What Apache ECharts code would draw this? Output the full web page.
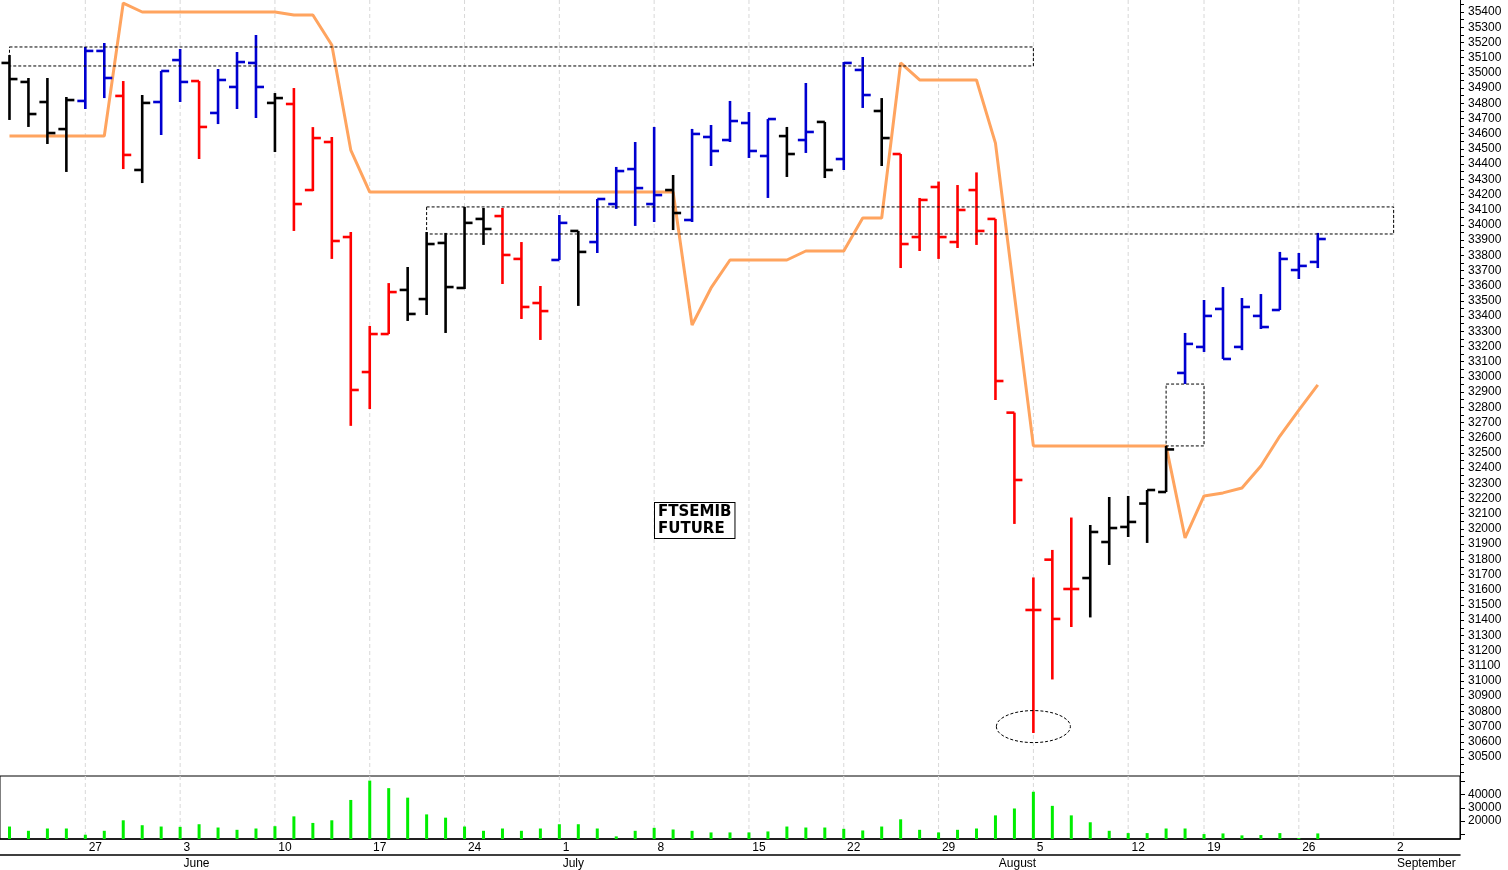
<!DOCTYPE html>
<html>
<head>
<meta charset="utf-8" />
<script src="https://cdn.jsdelivr.net/npm/echarts@6/dist/echarts.min.js"></script>
<style>
  html, body { margin: 0; padding: 0; background: #fff; }
  #chart { width: 1508px; height: 870px; }
</style>
</head>
<body>
<div id="chart"></div>
<script>
// daily bars, May 21 .. Aug 27 (Aug 15 closed)
var opens = [35065,34940,34808,34630,34815,35144,34848,34361,34808,35084, 34946,34736,34907,35065,34802,34795,34229,34545,33920,33032,
  33282,33572,33512,33881,33585,34039,34058,33776,33486,33769, 33960,33887,34137,34367,34137,34229,34032,34578,34558,34670,
  34453,34584,34558,34677,34433,35019,34749,34466,33920,34249, 33887,34229,34039,32765,31467,31798,31605,31677,31914,32013,
  32167,32243,33026,33197,33447,33197,33401,33440,33703,33756];
var highs = [35117,34966,34966,34841,35170,35196,34946,34854,35012,35157, 34946,35025,35137,35249,34867,34900,34643,34578,33953,33335,
  33617,33723,33953,33947,34118,34111,34111,33887,33598,34065, 33960,34170,34381,34545,34644,34328,34631,34657,34815,34742,
  34696,34644,34933,34677,35071,35104,34834,34466,34177,34285, 34262,34345,34039,32765,31681,31862,32075,32026,32210,32217,
  32256,32546,33289,33506,33591,33519,33545,33822,33815,33947];
var lows = [34690,34644,34532,34348,34762,34834,34367,34275,34591,34808, 34433,34663,34762,34703,34479,33960,34222,33776,32678,32789,
  33282,33368,33407,33289,33578,33868,33611,33381,33243,33769, 33467,33815,34105,33993,34019,33966,34019,34387,34545,34440,
  34177,34315,34473,34308,34361,34769,34387,33716,33828,33776, 33848,33868,32848,32033,30658,31010,31355,31418,31763,31947,
  31908,32243,32953,33164,33118,33176,33315,33440,33644,33716];
var closes = [34959,34729,34604,34821,35144,34966,34460,34802,35012,34940, 34644,34953,35071,34907,34834,34137,34571,33894,32914,33282,
  33558,33414,33874,33591,34013,33973,33802,33460,33433,34013, 33822,34170,34354,34242,34196,34078,34598,34486,34683,34486,
  34696,34466,34611,34361,35065,34854,34571,33874,34164,33920, 34098,33960,32973,32322,31467,31408,31605,31980,32006,32046,
  32256,32523,33217,33401,33118,33460,33328,33776,33730,33907];
var barColors = 'kkkkbbrkbb' + 'rbbbkrrrrr' + 'rkkkkkrrrb' + 'kbbbbkbbbb' + 'bkbkbbkrrr' + 'rrrrrrrkkk' + 'kkbbbbbbbb';
var trend = [34585,34585,34585,34585,34585,34585,35459,35400,35400,35400, 35400,35400,35400,35400,35400,35380,35380,35183,34492,34216,
  34216,34216,34216,34216,34216,34216,34216,34216,34216,34216, 34216,34216,34216,34216,34216,34216,33341,33585,33769,33769,
  33769,33769,33828,33828,33828,34045,34045,35065,34953,34953, 34953,34953,34538,33539,32546,32546,32546,32546,32546,32546,
  32546,32546,31941,32217,32237,32269,32414,32611,32782,32947];
var volumes = [15750,12500,14250,14250,9500,12500,20500,16750,15750,15500, 17500,15000,13250,14250,16000,23500,18500,20500,36000,50750,
  45000,37750,25000,22500,15750,12500,14250,12500,14250,17500, 17500,14250,8250,12500,14750,13500,12500,11250,11250,11250,
  12000,15750,15000,15000,14000,12750,15750,21250,13250,11250, 13250,14250,24250,29500,42250,31500,24250,19000,12500,10750,
  10750,14250,14250,10000,10500,9000,9250,10750,7000,10500];
var priceLabels = [];
for (var v = 30500; v <= 35400; v += 100) priceLabels.push(v);
var priceTicks = [];
for (var v = 30400; v <= 35450; v += 50) priceTicks.push(v);
var volLabels = [20000, 30000, 40000];
var volTicks = [10000, 20000, 30000, 40000, 50000];

var monthNames = ['January','February','March','April','May','June','July','August','September','October','November','December'];
// trading calendar to the right edge of the chart
var dates = [];
var d = new Date(2024, 4, 21);
while (dates.length < 77) {
  var wd = d.getDay();
  if (wd !== 0 && wd !== 6 && !(d.getMonth() === 7 && d.getDate() === 15)) {
    dates.push(new Date(d.getTime()));
  }
  d.setDate(d.getDate() + 1);
}
var categories = dates.map(function (x) { return (x.getMonth() + 1) + '-' + x.getDate(); });
function isMonday(i) { return dates[i].getDay() === 1; }
function isMonthStart(i) { return i > 0 && dates[i].getMonth() !== dates[i - 1].getMonth(); }

var ohlc = opens.map(function (o, i) {
  return [i, o, highs[i], lows[i], closes[i], 'kbr'.indexOf(barColors[i])];
});
var palette = ['#000000', '#0000d0', '#ff0000'];
var mondays = [];
categories.forEach(function (c, i) { if (isMonday(i)) mondays.push([i, 0]); });

function renderBar(params, api) {
  var x = api.coord([api.value(0), api.value(2)])[0];
  var yO = api.coord([api.value(0), api.value(1)])[1];
  var yH = api.coord([api.value(0), api.value(2)])[1];
  var yL = api.coord([api.value(0), api.value(3)])[1];
  var yC = api.coord([api.value(0), api.value(4)])[1];
  var style = { stroke: palette[api.value(5)], lineWidth: 2.6 };
  return {
    type: 'group',
    children: [
      { type: 'line', shape: { x1: x, y1: yH, x2: x, y2: yL }, style: style },
      { type: 'line', shape: { x1: x - 8, y1: yO, x2: x, y2: yO }, style: style },
      { type: 'line', shape: { x1: x, y1: yC, x2: x + 8, y2: yC }, style: style }
    ]
  };
}
// dashed week separators behind the marks
function renderWeek(params, api) {
  var cs = params.coordSys;
  var x = api.coord([api.value(0), 0])[0];
  return { type: 'line', shape: { x1: x, y1: cs.y, x2: x, y2: cs.y + cs.height },
    style: { stroke: '#d8d8d8', lineWidth: 1, lineDash: [4, 3] } };
}

var chart = echarts.init(document.getElementById('chart'));
var axisText = { color: '#000', fontFamily: 'Liberation Sans, Arial', fontSize: 12 };
function plain(v) { return String(v); }

chart.setOption({
  animation: false,
  grid: [
    { left: 0, right: 48, top: 0, height: 776 },
    { left: 0, right: 48, top: 776, height: 64, show: true, borderColor: '#000', borderWidth: 1, backgroundColor: 'transparent' }
  ],
  xAxis: [
    { gridIndex: 0, type: 'category', data: categories, boundaryGap: true,
      axisLine: { show: false }, axisTick: { show: false }, axisLabel: { show: false }, splitLine: { show: false } },
    { gridIndex: 1, type: 'category', data: categories, boundaryGap: true,
      axisLine: { lineStyle: { color: '#000', width: 1.5 } },
      axisTick: { alignWithLabel: true, length: 16, interval: function (i) { return isMonday(i); }, lineStyle: { color: '#000' } },
      axisLabel: Object.assign({ interval: function (i) { return isMonday(i); }, align: 'left', margin: 3,
        formatter: function (val, i) { return ' ' + dates[i].getDate(); } }, axisText),
      splitLine: { show: false } },
    { gridIndex: 1, type: 'category', data: categories, boundaryGap: true, position: 'bottom', offset: 16,
      axisLine: { lineStyle: { color: '#000', width: 1.5 } },
      axisTick: { alignWithLabel: true, length: 16, interval: function (i) { return isMonthStart(i); }, lineStyle: { color: '#000' } },
      axisLabel: Object.assign({ interval: function (i) { return isMonthStart(i); }, align: 'left', margin: 3,
        formatter: function (val, i) { return ' ' + monthNames[dates[i].getMonth()]; } }, axisText),
      splitLine: { show: false } }
  ],
  yAxis: [
    { gridIndex: 0, type: 'value', position: 'right', min: 30375, max: 35479, scale: true,
      axisLine: { show: true, lineStyle: { color: '#000' } },
      axisTick: { show: true, customValues: priceTicks, length: 4, lineStyle: { color: '#000' } },
      axisLabel: Object.assign({ customValues: priceLabels, margin: 8, formatter: plain }, axisText),
      splitLine: { show: false } },
    { gridIndex: 1, type: 'value', position: 'right', min: 6250, max: 54250,
      axisLine: { show: true, lineStyle: { color: '#000' } },
      axisTick: { show: true, customValues: volTicks, length: 5, lineStyle: { color: '#000' } },
      axisLabel: Object.assign({ customValues: volLabels, margin: 8, formatter: plain }, axisText),
      splitLine: { show: false } }
  ],
  series: [
    { type: 'custom', xAxisIndex: 0, yAxisIndex: 0, data: mondays, renderItem: renderWeek, z: 0, silent: true, clip: false },
    { type: 'custom', xAxisIndex: 1, yAxisIndex: 1, data: mondays, renderItem: renderWeek, z: 0, silent: true, clip: false },
    { type: 'line', xAxisIndex: 0, yAxisIndex: 0, data: trend, showSymbol: false, symbol: 'none',
      lineStyle: { color: '#ffa45f', width: 3 }, z: 2 },
    { type: 'custom', xAxisIndex: 0, yAxisIndex: 0, data: ohlc, renderItem: renderBar,
      encode: { x: 0, y: [1, 2, 3, 4] }, z: 3 },
    { type: 'bar', xAxisIndex: 1, yAxisIndex: 1, data: volumes, barWidth: 3, z: 3,
      itemStyle: { color: '#00ee00' } }
  ]
});

// annotations drawn from data positions
function px(cat, val) { return chart.convertToPixel({ xAxisIndex: 0, yAxisIndex: 0 }, [cat, val]); }
function dashedRect(c1, v1, c2, v2) {
  var a = px(c1, v1), b = px(c2, v2);
  return { type: 'rect', shape: { x: a[0], y: a[1], width: b[0] - a[0], height: b[1] - a[1] },
    style: { fill: null, stroke: '#000', lineWidth: 1, lineDash: [3, 2] }, z: 10 };
}
var ell = px('8-5', 30700);
chart.setOption({
  graphic: [
    dashedRect('5-21', 35170, '8-5', 35045),
    dashedRect('6-20', 34118, '9-2', 33940),
    dashedRect('8-14', 32953, '8-19', 32546),
    { type: 'ellipse', shape: { cx: ell[0], cy: ell[1], rx: 37, ry: 16 },
      style: { fill: null, stroke: '#000', lineWidth: 1, lineDash: [3, 2] }, z: 10 },
    { type: 'text', left: 654, top: 502, z: 10,
      style: { text: 'FTSEMIB\nFUTURE', fill: '#000', font: 'bold 15px "DejaVu Sans", sans-serif', align: 'center',
        backgroundColor: '#fff', borderColor: '#000', borderWidth: 1, padding: [1, 3, 0, 3], lineHeight: 17 } }
  ]
});
</script>
</body>
</html>
